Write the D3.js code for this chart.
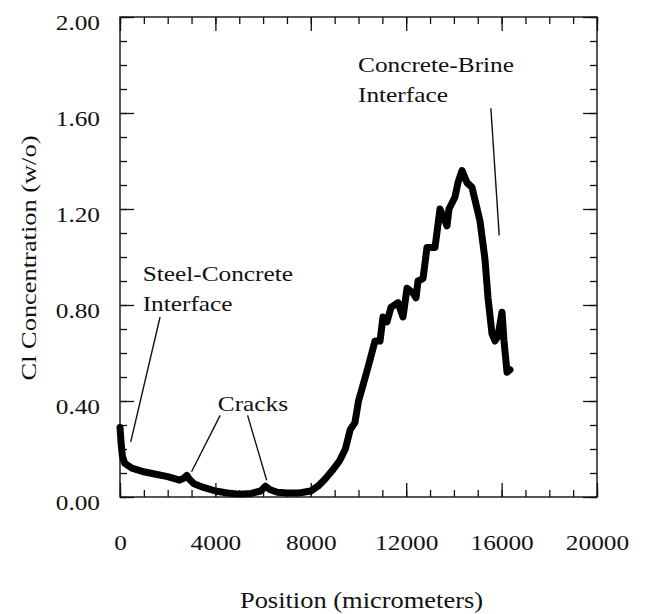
<!DOCTYPE html>
<html>
<head>
<meta charset="utf-8">
<script src="https://cdn.jsdelivr.net/npm/d3@7/dist/d3.min.js"></script>
<style>
  html, body { margin: 0; padding: 0; background: #fff; }
  text { font-family: "Liberation Serif", "Times New Roman", serif; fill: #111; }
</style>
</head>
<body>
<svg id="chart" width="645" height="614"></svg>
<script>
// ---- data ----
const positions = [0, 50, 100, 200, 500, 1000, 1500, 2000, 2500, 2700, 2800, 2900, 3100, 3500, 4000, 4500, 5000, 5500, 5900, 6100, 6300, 6600, 7000, 7500, 8000, 8300, 8600, 8900, 9200, 9450, 9650, 9850, 10000, 10200, 10398, 10692, 10902, 11027, 11195, 11363, 11656, 11866, 12034, 12285, 12411, 12495, 12705, 12872, 13208, 13417, 13543, 13711, 13795, 14046, 14172, 14340, 14549, 14759, 15094, 15304, 15430, 15598, 15723, 15849, 16017, 16101, 16227, 16352];
const concentration = [0.29, 0.22, 0.17, 0.14, 0.12, 0.105, 0.095, 0.085, 0.07, 0.08, 0.09, 0.075, 0.055, 0.04, 0.025, 0.017, 0.012, 0.015, 0.025, 0.045, 0.03, 0.02, 0.017, 0.017, 0.025, 0.045, 0.075, 0.11, 0.15, 0.2, 0.28, 0.31, 0.40, 0.47, 0.54, 0.65, 0.65, 0.75, 0.73, 0.79, 0.81, 0.75, 0.87, 0.85, 0.83, 0.90, 0.91, 1.04, 1.04, 1.20, 1.17, 1.13, 1.20, 1.25, 1.31, 1.36, 1.31, 1.29, 1.15, 0.99, 0.83, 0.68, 0.65, 0.67, 0.77, 0.65, 0.52, 0.53];
const xMajorTicks = [0, 4000, 8000, 12000, 16000, 20000];
const xMinorTicks = d3.range(0, 20001, 1000);
const yMajorTicks = [0, 0.4, 0.8, 1.2, 1.6, 2.0];
const yMinorTicks = d3.range(0, 20.01, 1).map(d => d / 10);
const xTitle = "Position (micrometers)";
const yTitle = "Cl Concentration (w/o)";
const annotations = [
  { lines: ["Concrete-Brine", "Interface"], pos: [9980, 1.77], pointers: [[[15550, 1.62], [15900, 1.09]]] },
  { lines: ["Steel-Concrete", "Interface"], pos: [950, 0.90], pointers: [[[1680, 0.75], [450, 0.23]]] },
  { lines: ["Cracks"], pos: [4100, 0.36], pointers: [[[4200, 0.34], [3000, 0.105]], [[5350, 0.34], [6150, 0.07]]] }
];

// ---- layout ----
const svg = d3.select("#chart");
const mLeft = 120, mRight = 597, mTop = 17, mBottom = 497;
const STRETCH = 1.15;
const x = d3.scaleLinear().domain([0, 20000]).range([mLeft, mRight]);
const y = d3.scaleLinear().domain([0, 2]).range([mBottom, mTop]);

function stretchText(sel, k) {
  sel.each(function () {
    const len = this.getComputedTextLength();
    d3.select(this).attr("textLength", len * k).attr("lengthAdjust", "spacingAndGlyphs");
  });
}

// frame
svg.append("rect").attr("x", mLeft).attr("y", mTop).attr("width", mRight - mLeft).attr("height", mBottom - mTop)
  .attr("fill", "none").attr("stroke", "#111").attr("stroke-width", 1.4);

function addAxis(axisFn, scale, ticks, size, transform, labels, padding) {
  const g = svg.append("g").attr("transform", transform)
    .call(axisFn(scale).tickValues(ticks).tickSize(size).tickPadding(padding || 3)
      .tickFormat(labels || (() => "")));
  g.select(".domain").remove();
  g.selectAll(".tick line").attr("stroke", "#111").attr("stroke-width", 1.3);
  return g;
}

// minor ticks
addAxis(d3.axisBottom, x, xMinorTicks, -7, `translate(0,${mBottom})`);
addAxis(d3.axisTop, x, xMinorTicks, -7, `translate(0,${mTop})`);
addAxis(d3.axisLeft, y, yMinorTicks, -7, `translate(${mLeft},0)`);
addAxis(d3.axisRight, y, yMinorTicks, -7, `translate(${mRight},0)`);
// major ticks
const gx = addAxis(d3.axisBottom, x, xMajorTicks, -14, `translate(0,${mBottom})`, d3.format("d"), 37);
addAxis(d3.axisTop, x, xMajorTicks, -14, `translate(0,${mTop})`);
const gy = addAxis(d3.axisLeft, y, yMajorTicks, -14, `translate(${mLeft},0)`, d3.format(".2f"), 20);
addAxis(d3.axisRight, y, yMajorTicks, -14, `translate(${mRight},0)`);

gx.selectAll(".tick text").attr("font-size", 22).attr("font-family", "Liberation Serif").attr("fill", "#111")
  .call(stretchText, STRETCH);
gy.selectAll(".tick text").attr("font-size", 22).attr("font-family", "Liberation Serif").attr("fill", "#111")
  .attr("dy", "0.55em").call(stretchText, STRETCH);

// axis titles
svg.append("text").attr("x", (mLeft + mRight) / 2 + 3).attr("y", 608).attr("text-anchor", "middle")
  .attr("font-size", 23).text(xTitle).call(stretchText, STRETCH);
svg.append("text").attr("transform", `translate(36,${(mTop + mBottom) / 2 + 1}) rotate(-90)`)
  .attr("text-anchor", "middle").attr("font-size", 22).text(yTitle).call(stretchText, 1.2);

// data line
const line = d3.line().x((d, i) => x(positions[i])).y(d => y(d));
svg.append("path").datum(concentration).attr("d", line)
  .attr("fill", "none").attr("stroke", "#000").attr("stroke-width", 7)
  .attr("stroke-linejoin", "round").attr("stroke-linecap", "round");

// annotations
annotations.forEach(a => {
  a.lines.forEach((t, i) => {
    svg.append("text").attr("x", x(a.pos[0])).attr("y", y(a.pos[1]) + i * 30)
      .attr("font-size", 22).text(t).call(stretchText, 1.15);
  });
  a.pointers.forEach(p => {
    svg.append("line").attr("x1", x(p[0][0])).attr("y1", y(p[0][1]))
      .attr("x2", x(p[1][0])).attr("y2", y(p[1][1]))
      .attr("stroke", "#111").attr("stroke-width", 1.4);
  });
});
</script>
</body>
</html>
